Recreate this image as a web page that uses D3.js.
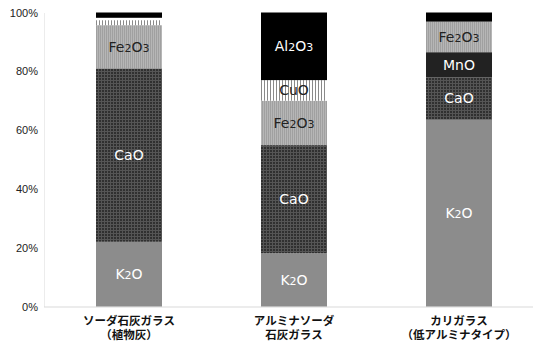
<!DOCTYPE html>
<html>
<head>
<meta charset="utf-8">
<script src="https://cdnjs.cloudflare.com/ajax/libs/d3/7.8.5/d3.min.js"></script>
<style>
  body { margin: 0; background: #fff; }
  svg { display: block; }
  .tick text { font-family: "Liberation Sans", Arial, sans-serif; font-size: 11px; fill: #222; }
</style>
</head>
<body>
<div id="chart"></div>
<script>
// glass types (two-line labels)
var categories = ["soda", "alumina", "kali"];
var catLines = [
  ["ソーダ石灰ガラス", "（植物灰）"],
  ["アルミナソーダ", "石灰ガラス"],
  ["カリガラス", "（低アルミナタイプ）"]
];

// components from bottom to top
var series = ["K2O", "CaO", "MnO", "Fe2O3", "CuO", "other", "Al2O3"];
// label text split into [text, isSubscript]
var seriesLabels = {
  K2O: [["K", 0], ["2", 1], ["O", 0]],
  CaO: [["CaO", 0]],
  MnO: [["MnO", 0]],
  Fe2O3: [["Fe", 0], ["2", 1], ["O", 0], ["3", 1]],
  CuO: [["CuO", 0]],
  other: [],
  Al2O3: [["Al", 0], ["2", 1], ["O", 0], ["3", 1]]
};

// percentages per glass type
var K2O   = [22.0, 18.1, 63.5];
var CaO   = [59.0, 36.8, 14.5];
var MnO   = [0, 0, 8.5];
var Fe2O3 = [14.7, 15.1, 10.4];
var CuO   = [1.7, 7.0, 0];
var other = [0.8, 0, 0];
var Al2O3 = [1.8, 23.0, 3.1];

var yTicks = [0, 20, 40, 60, 80, 100];

var svgWidth = 533;
var svgHeight = 341;

var values = { K2O: K2O, CaO: CaO, MnO: MnO, Fe2O3: Fe2O3, CuO: CuO, other: other, Al2O3: Al2O3 };
var table = categories.map(function (c, i) {
  var row = { cat: c };
  series.forEach(function (s) { row[s] = values[s][i]; });
  return row;
});

var svg = d3.select("#chart")
  .append("svg")
  .attr("width", svgWidth)
  .attr("height", svgHeight);

// fills / patterns
var defs = svg.append("defs");

var pCaO = defs.append("pattern").attr("id", "pCaO")
  .attr("patternUnits", "userSpaceOnUse").attr("width", 3).attr("height", 3);
pCaO.append("rect").attr("width", 3).attr("height", 3).attr("fill", "#555");
pCaO.append("rect").attr("width", 2).attr("height", 2).attr("fill", "#303030");

var pFe = defs.append("pattern").attr("id", "pFe")
  .attr("patternUnits", "userSpaceOnUse").attr("width", 2).attr("height", 2);
pFe.append("rect").attr("width", 2).attr("height", 2).attr("fill", "#b6b6b6");
pFe.append("rect").attr("width", 1).attr("height", 2).attr("fill", "#a0a0a0");

var pCu = defs.append("pattern").attr("id", "pCu")
  .attr("patternUnits", "userSpaceOnUse").attr("width", 3).attr("height", 3);
pCu.append("rect").attr("width", 3).attr("height", 3).attr("fill", "#fff");
pCu.append("rect").attr("width", 1).attr("height", 3).attr("fill", "#8a8a8a");

var fills = {
  K2O: "#8c8c8c",
  CaO: "url(#pCaO)",
  MnO: "#222",
  Fe2O3: "url(#pFe)",
  CuO: "url(#pCu)",
  other: "#fff",
  Al2O3: "#000"
};
var textColors = {
  K2O: "#fff", CaO: "#fff", MnO: "#fff", Fe2O3: "#222", CuO: "#222", other: "#222", Al2O3: "#fff"
};

var x = d3.scaleBand()
  .domain(categories)
  .range([46.5, 541.5])
  .paddingInner(0.6)
  .paddingOuter(0.3);

var y = d3.scaleLinear()
  .domain([0, 100])
  .range([306.5, 12.5]);

// axis
var leftAxis = d3.axisLeft(y)
  .tickValues(yTicks)
  .tickSize(0)
  .tickPadding(6)
  .tickFormat(function (d) { return d + "%"; });

svg.append("g")
  .attr("transform", "translate(44, 0)")
  .call(leftAxis)
  .call(function (g) { g.select(".domain").attr("stroke", "#ececec"); });

svg.append("line")
  .attr("x1", 44).attr("x2", svgWidth)
  .attr("y1", y(0) + 0.5).attr("y2", y(0) + 0.5)
  .attr("stroke", "#d9d9d9");

var stack = d3.stack().keys(series);
var layers = stack(table);

var layerG = svg.selectAll(".layer")
  .data(layers)
  .enter()
  .append("g")
  .attr("class", "layer");

layerG.selectAll("rect")
  .data(function (d) { return d.map(function (p) { return { key: d.key, p: p }; }); })
  .enter()
  .append("rect")
  .attr("x", function (d) { return x(d.p.data.cat); })
  .attr("width", x.bandwidth())
  .attr("y", function (d) { return y(d.p[1]); })
  .attr("height", function (d) { return y(d.p[0]) - y(d.p[1]); })
  .attr("fill", function (d) { return fills[d.key]; });

// segment labels (only where big enough)
layerG.selectAll("text")
  .data(function (d) {
    return d.map(function (p) { return { key: d.key, p: p }; })
      .filter(function (e) { return e.p[1] - e.p[0] > 5 && seriesLabels[e.key].length; });
  })
  .enter()
  .append("text")
  .attr("x", function (d) { return x(d.p.data.cat) + x.bandwidth() / 2; })
  .attr("y", function (d) { return (y(d.p[0]) + y(d.p[1])) / 2; })
  .attr("dy", "0.35em")
  .attr("text-anchor", "middle")
  .style("font-family", "'DejaVu Sans', sans-serif")
  .style("font-size", "14px")
  .style("fill", function (d) { return textColors[d.key]; })
  .each(function (d) {
    var t = d3.select(this);
    seriesLabels[d.key].forEach(function (part) {
      t.append("tspan")
        .style("font-size", part[1] ? "11px" : "14px")
        .text(part[0]);
    });
  });

// category labels
var catG = svg.selectAll(".cat")
  .data(categories)
  .enter()
  .append("text")
  .attr("class", "cat")
  .attr("text-anchor", "middle")
  .style("font-family", "'Noto Sans CJK JP', sans-serif")
  .style("font-size", "11.5px")
  .style("font-weight", "bold")
  .style("fill", "#111");

catG.selectAll("tspan")
  .data(function (d, i) { return catLines[i].map(function (l) { return { cat: d, line: l }; }); })
  .enter()
  .append("tspan")
  .attr("x", function (d) { return x(d.cat) + x.bandwidth() / 2; })
  .attr("y", function (d, i) { return 325 + i * 13.5; })
  .text(function (d) { return d.line; });
</script>
</body>
</html>
